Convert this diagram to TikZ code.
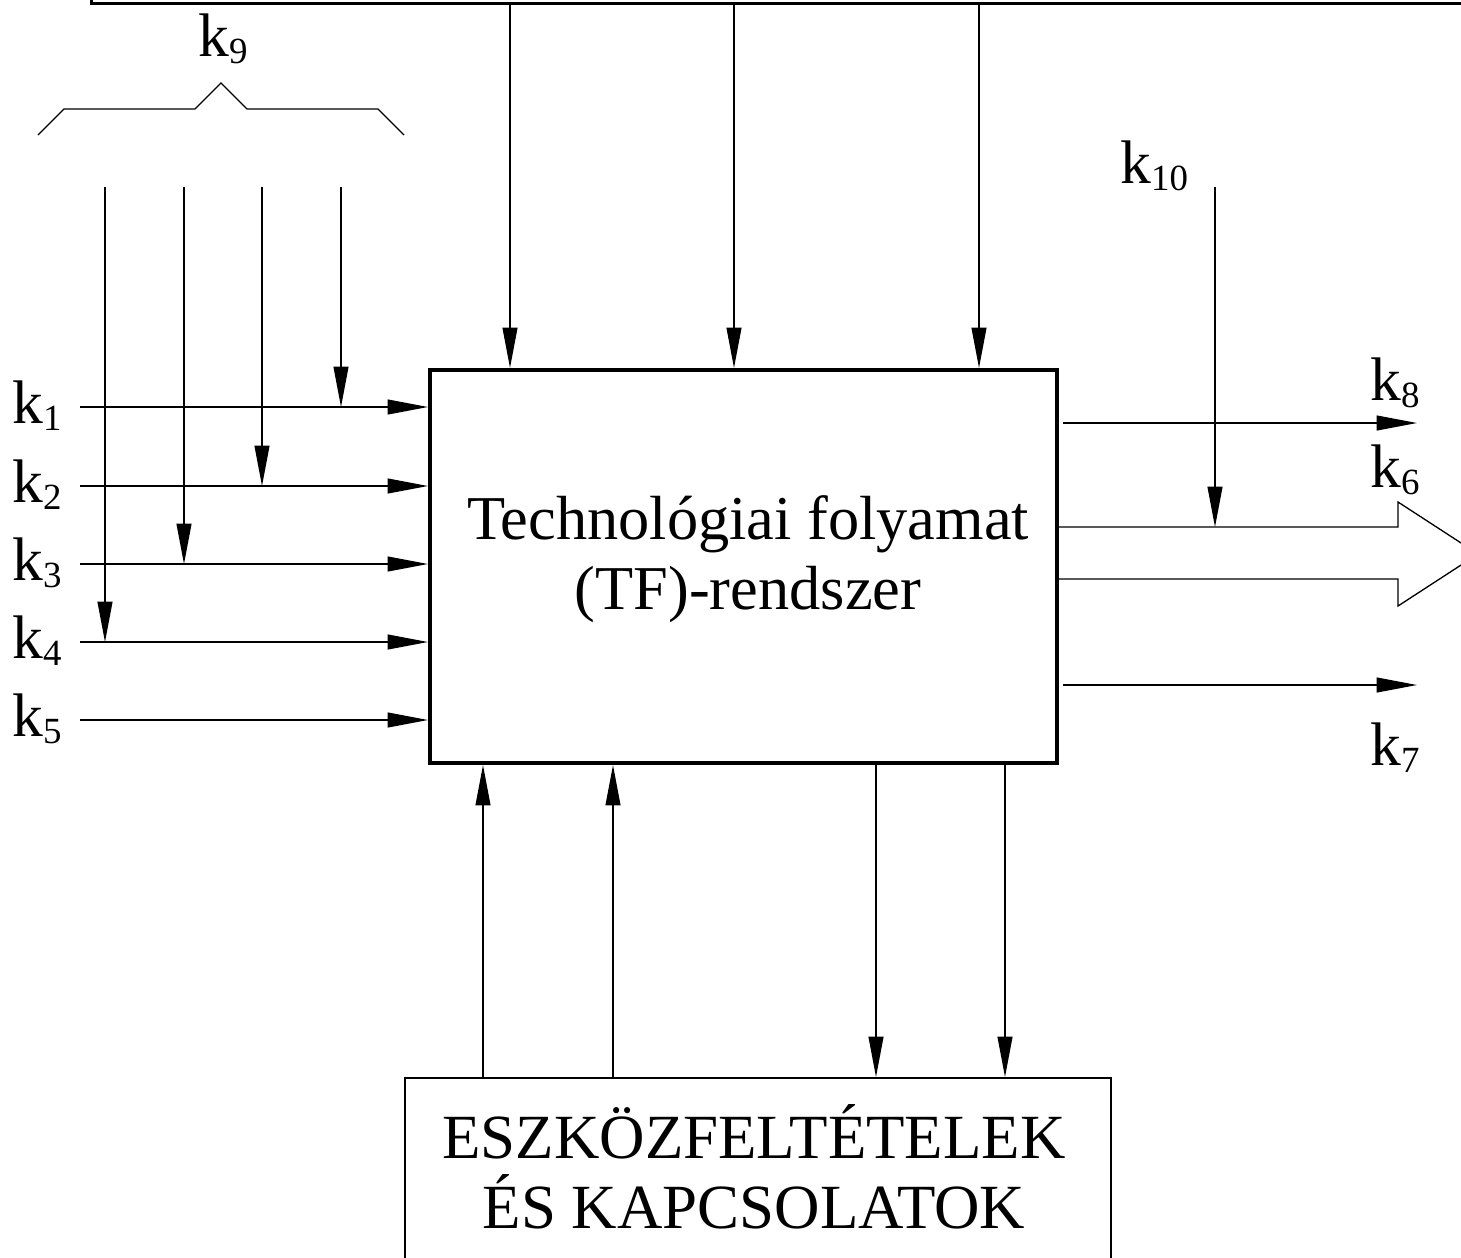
\documentclass[tikz,border=0pt]{standalone}
\usepackage{fontspec}
\setmainfont{Liberation Serif}
\usetikzlibrary{arrows.meta}
\newcommand\ksub[2]{#1\raisebox{-4pt}{\fontsize{21}{21}\selectfont #2}}
\begin{document}
\begin{tikzpicture}[x=0.02cm,y=-0.02cm,
  thinline/.style={line width=0.75pt},
  arr/.style={thinline,-{Triangle[length=23pt,width=8.5pt]}},
  klabel/.style={anchor=base west,inner sep=0pt,font=\fontsize{35}{40}\selectfont},
  bigtext/.style={align=center,inner sep=0pt,font=\fontsize{35.5}{40}\selectfont},
]
\useasboundingbox (0,0) rectangle (1461,1258);
\begin{scope}
\clip (0,0) rectangle (1461,1258);
% top box (cut off)
\node (topbox) [draw, line width=1.8pt, inner sep=0pt, anchor=south west,
  minimum width=28.6cm, minimum height=2.1cm] at (90,5) {};
% main box
\node (tf) [draw, line width=2.4pt, inner sep=0pt,
  minimum width=12.54cm, minimum height=7.86cm] at (743.5,566.5) {};
\node (tftext) [bigtext] at (748,559) {Technológiai folyamat\\(TF)-rendszer};
% bottom box
\node (eb) [draw, line width=1.2pt, inner sep=0pt, anchor=north west,
  minimum width=14.12cm, minimum height=4.6cm] at (404,1077) {};
\node (ebtext) [bigtext, font=\fontsize{35.8}{40}\selectfont] at (754,1167) {ESZKÖZFELTÉTELEK\\ÉS KAPCSOLATOK};

% top arrows
\coordinate (t1) at (510,0);
\coordinate (t2) at (734,0);
\coordinate (t3) at (979,0);
\foreach \t in {t1,t2,t3}
  \draw[arr] (\t |- topbox.south) -- (\t |- tf.north);

% left inputs
\coordinate (l1) at (80,407);
\coordinate (l2) at (80,486);
\coordinate (l3) at (80,564);
\coordinate (l4) at (80,642);
\coordinate (l5) at (80,720);
\foreach \l in {l1,l2,l3,l4,l5}
  \draw[arr] (\l) -- (\l -| tf.west);

% k9 verticals
\coordinate (v1) at (341,187);
\coordinate (v2) at (262,187);
\coordinate (v3) at (184,187);
\coordinate (v4) at (105,187);
\draw[arr] (v1) -- (v1 |- l1);
\draw[arr] (v2) -- (v2 |- l2);
\draw[arr] (v3) -- (v3 |- l3);
\draw[arr] (v4) -- (v4 |- l4);

% brace
\draw[thinline] (38,135) -- (64,109) -- (195,109) -- (221,83) -- (247,109) -- (378,109) -- (404,135);

% labels left
\node (k1) [klabel] at (12,423) {\ksub{k}{1}};
\node (k2) [klabel] at (12,502) {\ksub{k}{2}};
\node (k3) [klabel] at (12,580) {\ksub{k}{3}};
\node (k4) [klabel] at (12,658) {\ksub{k}{4}};
\node (k5) [klabel] at (12,736) {\ksub{k}{5}};
\node (k9) [klabel] at (198,56) {\ksub{k}{9}};

% right outputs
\coordinate (r8s) at (1063,423);
\coordinate (r8) at (1417,423);
\coordinate (r7s) at (1063,685);
\coordinate (r7) at (1417,685);
\draw[arr] (r8s) -- (r8);
\draw[arr] (r7s) -- (r7);
\coordinate (ba) at (1398,527);
\coordinate (bb) at (1398,579);
\draw[thinline] (ba -| tf.east) -- (ba) -- (1398,502) -- (1478,554) -- (1398,606) -- (bb) -- (bb -| tf.east);
\coordinate (v10) at (1215,187);
\draw[arr] (v10) -- (v10 |- ba);

\node (k8) [klabel] at (1370,400) {\ksub{k}{8}};
\node (k6) [klabel] at (1370,487) {\ksub{k}{6}};
\node (k7) [klabel] at (1370,765) {\ksub{k}{7}};
\node (k10) [klabel] at (1120,183) {\ksub{k}{10}};

% bottom arrows
\coordinate (b1) at (483,0);
\coordinate (b2) at (613,0);
\coordinate (b3) at (876,0);
\coordinate (b4) at (1005,0);
\draw[arr] (b1 |- eb.north) -- (b1 |- tf.south);
\draw[arr] (b2 |- eb.north) -- (b2 |- tf.south);
\draw[arr] (b3 |- tf.south) -- (b3 |- eb.north);
\draw[arr] (b4 |- tf.south) -- (b4 |- eb.north);
\end{scope}
\end{tikzpicture}
\end{document}
